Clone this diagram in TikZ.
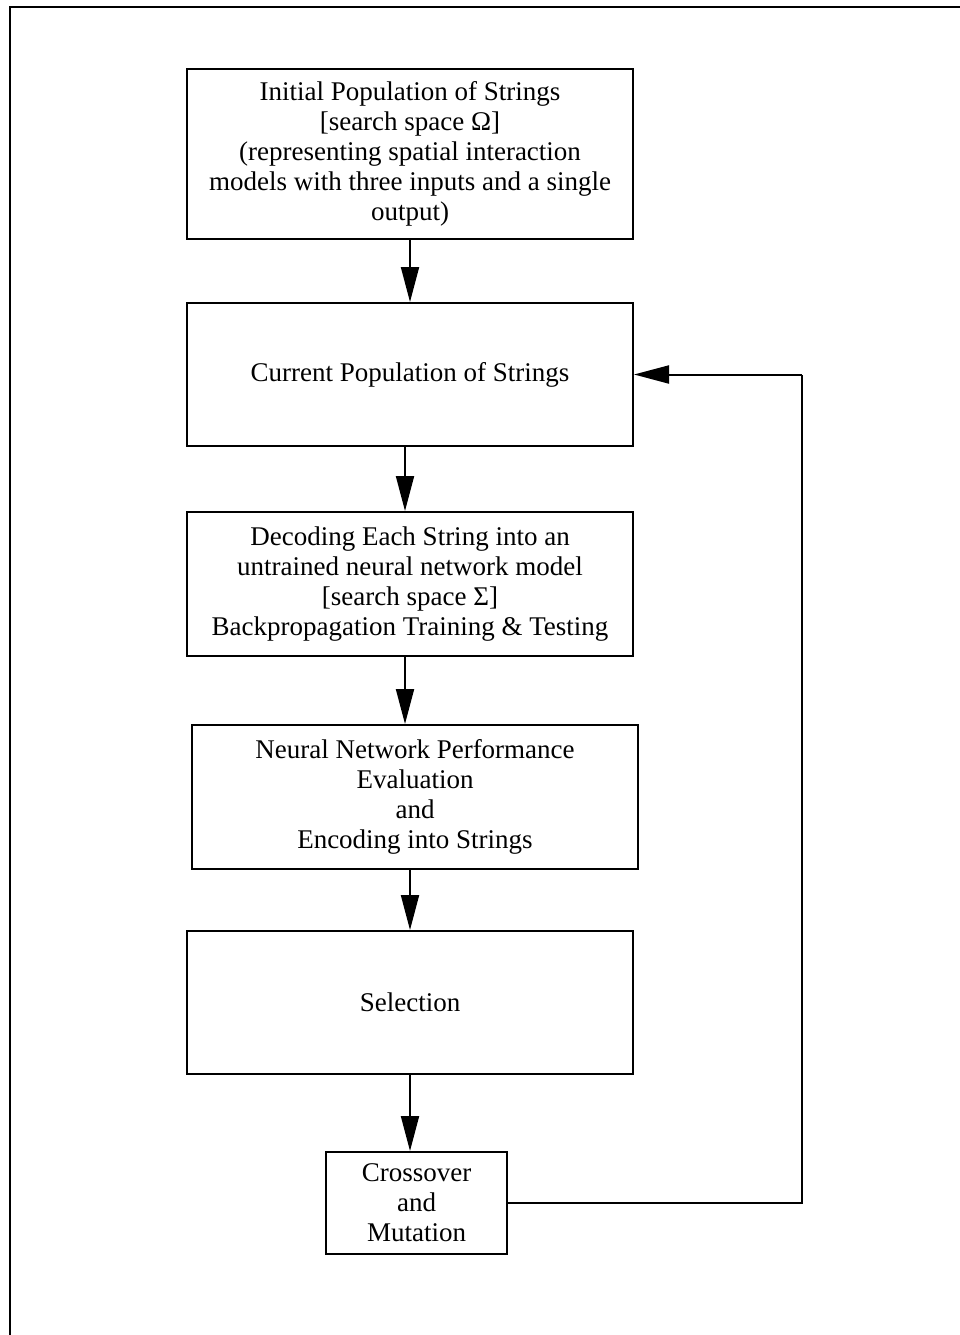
\documentclass[tikz,border=0pt]{standalone}
\usepackage{fontspec}
\setmainfont{Liberation Serif}
\usetikzlibrary{arrows.meta}
\begin{document}
\begin{tikzpicture}[x=1pt,y=-1pt,
  box/.style={draw, line width=2pt, rectangle, align=center, inner sep=0pt,
    font=\fontsize{27}{30}\selectfont},
  arr/.style={line width=2pt, -{Triangle[length=35pt,width=18pt]}},
  ln/.style={line width=2pt}]
\useasboundingbox (0,0) rectangle (960,1335);
\draw[line width=2.5pt] (10,1345) -- (10,7) -- (970,7);
\node[box, minimum width=446pt, minimum height=170pt] (b1) at (410,154)
  {Initial Population of Strings\\{}[search space Ω]\\(representing spatial interaction\\models with three inputs and a single\\output)};
\node[box, minimum width=446pt, minimum height=143pt] (b2) at (410,374.5)
  {Current Population of Strings};
\node[box, minimum width=446pt, minimum height=144pt] (b3) at (410,584)
  {Decoding Each String into an\\untrained neural network model\\{}[search space Σ]\\Backpropagation Training \& Testing};
\node[box, minimum width=446pt, minimum height=144pt] (b4) at (415,797)
  {Neural Network Performance\\Evaluation\\and\\Encoding into Strings};
\node[box, minimum width=446pt, minimum height=143pt] (b5) at (410,1002.5)
  {Selection};
\node[box, minimum width=181pt, minimum height=102pt] (b6) at (416.5,1203)
  {Crossover\\and\\Mutation};
\coordinate (loop) at (802,374.5);
\draw[arr] (b1.south) -- (b2.north);
\draw[arr] ([xshift=-5pt]b2.south) -- ([xshift=-5pt]b3.north);
\draw[arr] ([xshift=-5pt]b3.south) -- ([xshift=-10pt]b4.north);
\draw[arr] ([xshift=-5pt]b4.south) -- (b5.north);
\draw[arr] (b5.south) -- (b5.south |- b6.north);
\draw[ln] (b6.east) -| (loop);
\draw[arr] (loop) -- (b2.east);
\end{tikzpicture}
\end{document}
